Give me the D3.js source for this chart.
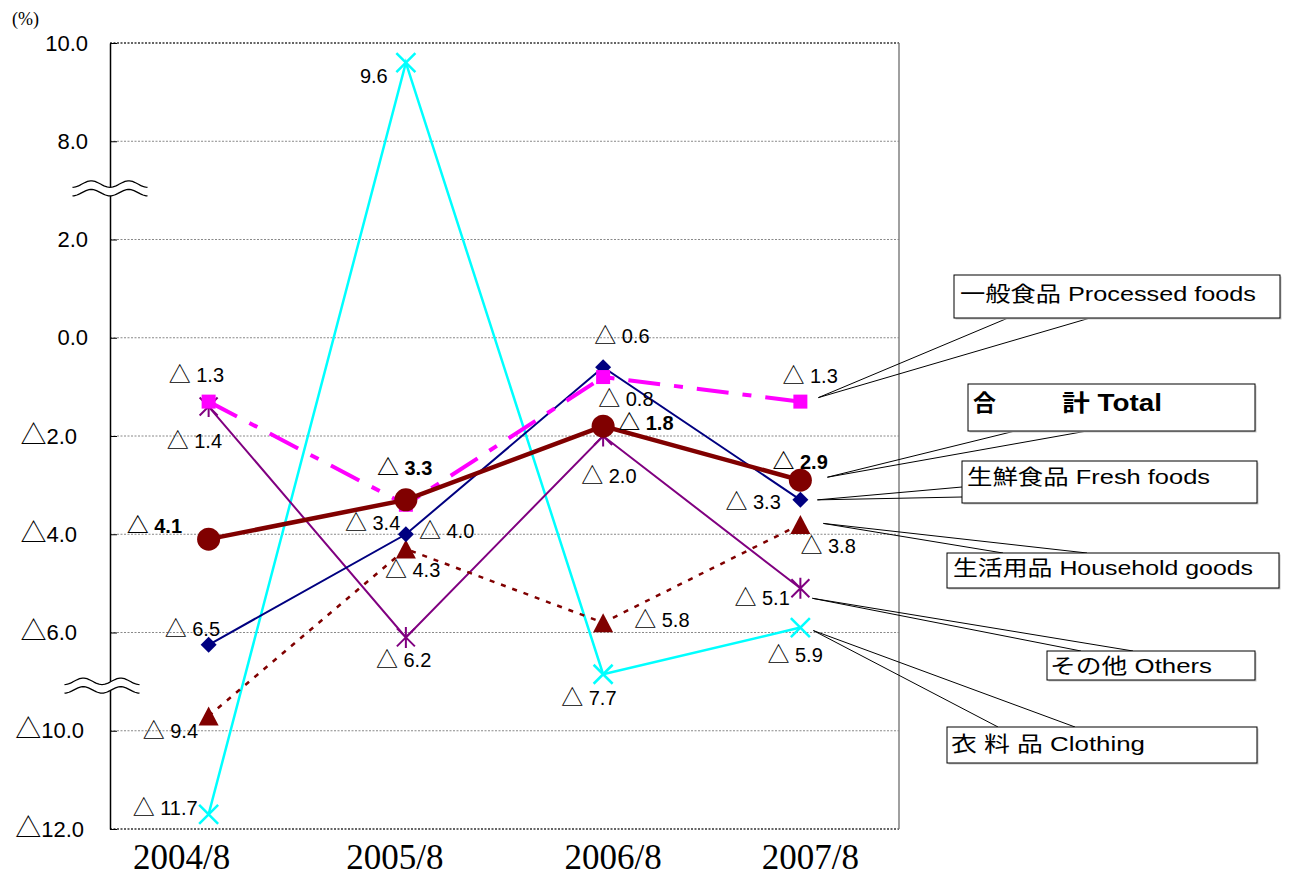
<!DOCTYPE html>
<html>
<head>
<meta charset="utf-8">
<title>Sales change by category</title>
<script src="https://d3js.org/d3.v7.min.js"></script>
<style>
  body { margin: 0; background: #fff; }
  text { font-family: 'Liberation Sans', 'Noto Sans CJK JP', sans-serif; fill: #000; white-space: pre; }
</style>
</head>
<body>
<div id="chart"></div>
<script>
// data (%) ; negative values are written with a leading triangle
const categories = ['2004/8', '2005/8', '2006/8', '2007/8'];
const processedFoods = [-1.3, -3.4, -0.8, -1.3];
const totalSales     = [-4.1, -3.3, -1.8, -2.9];
const freshFoods     = [-6.5, -4.0, -0.6, -3.3];
const householdGoods = [-9.4, -4.3, -5.8, -3.8];
const othersSales    = [-1.4, -6.2, -2.0, -5.1];
const clothingSales  = [-11.7, 9.6, -7.7, -5.9];
const yTicks = [10, 8, 2, 0, -2, -4, -6, -10, -12];   // broken axis: 8 -> 2 and -6 -> -10

const W = 1289, H = 876;
const plotL = 110, plotR = 899, plotT = 43, plotB = 829;

const svg = d3.select('#chart').append('svg')
  .attr('width', W).attr('height', H);

// scales
const x = d3.scalePoint().domain(categories).range([plotL, plotR]).padding(0.5);
const tickAsc = yTicks.slice().sort((a, b) => a - b);
const step = (plotB - plotT) / (tickAsc.length - 1);
const y = d3.scaleLinear()
  .domain(tickAsc)
  .range(tickAsc.map((d, i) => plotB - i * step));

// write a value with a big triangle for negatives
function writeValue(sel, v, triSize, gap) {
  sel.text(null);
  if (v < 0) {
    sel.append('tspan').attr('font-size', triSize).text('△');
    sel.append('tspan').text(gap + Math.abs(v).toFixed(1));
  } else {
    sel.text(v.toFixed(1));
  }
}

// series styles + where each value label sits relative to its point
const series = [
  { key: 'clothing', values: clothingSales, color: '#00FFFF', width: 2.5, dash: null, marker: 'x',
    offsets: [[-76, 1], [-46, 20], [-42, 31], [-33, 34]] },
  { key: 'others', values: othersSales, color: '#800080', width: 2, dash: null, marker: 'star',
    offsets: [[-42, 41], [-30, 30], [-22, 47], [-66, 17]] },
  { key: 'household', values: householdGoods, color: '#800000', width: 2.5, dash: '5,7', marker: 'triangle',
    offsets: [[-66, 22], [-21, 28], [31, 4], [0, 29]] },
  { key: 'fresh', values: freshFoods, color: '#000080', width: 2, dash: null, marker: 'diamond',
    offsets: [[-44, -9], [13, 4], [-9, -24], [-75, 9]] },
  { key: 'processed', values: processedFoods, color: '#FF00FF', width: 4, dash: '32,14,9,14', marker: 'square',
    offsets: [[-40, -20], [-61, 25], [-5, 29], [-18, -19]] },
  { key: 'total', values: totalSales, color: '#800000', width: 4.5, dash: null, marker: 'circle', bold: true,
    offsets: [[-82, -6], [-29, -25], [15, 4], [-28, -11]] }
];

// legend call-outs
const legendLayout = [
  { key: 'processed', box: [954, 275, 326, 43], from: [18, -4], anchors: [[1008, 318], [1090, 318]],
    parts: [{ t: '一般食品 Processed foods', x: 960, y: 301, len: 296, size: 21 }] },
  { key: 'total', box: [968, 384, 287, 47], from: [27, -3], anchors: [[1015, 431], [1087, 431]], bold: true,
    parts: [{ t: '合', x: 973, y: 411, len: 23, size: 23 }, { t: '計 Total', x: 1062, y: 411, len: 100, size: 23 }] },
  { key: 'fresh', box: [962, 461, 295, 42], from: [17, 0], anchors: [[962, 487], [962, 497]],
    parts: [{ t: '生鮮食品 Fresh foods', x: 967, y: 484, len: 243, size: 21 }] },
  { key: 'household', box: [947, 553, 332, 35], from: [23, -1], anchors: [[1003, 553], [1087, 553]],
    parts: [{ t: '生活用品 Household goods', x: 953, y: 575, len: 300, size: 21 }] },
  { key: 'others', box: [1047, 651, 208, 29], from: [12, 10], anchors: [[1081, 651], [1133, 651]],
    parts: [{ t: 'その他 Others', x: 1050, y: 673, len: 162, size: 21 }] },
  { key: 'clothing', box: [947, 727, 310, 36], from: [13, 3], anchors: [[998, 727], [1075, 727]],
    parts: [{ t: '衣 料 品 Clothing', x: 951, y: 751, len: 194, size: 21 }] }
];

// grid
svg.append('g').selectAll('line')
  .data(yTicks)
  .join('line')
  .attr('x1', plotL).attr('x2', plotR)
  .attr('y1', d => y(d)).attr('y2', d => y(d))
  .attr('stroke', (d, i) => (i === 0 || i === yTicks.length - 1) ? '#333' : '#888')
  .attr('stroke-width', (d, i) => (i === 0 || i === yTicks.length - 1) ? 1.5 : 1)
  .attr('stroke-dasharray', '2,1.5');

// right border
svg.append('line')
  .attr('x1', plotR).attr('x2', plotR).attr('y1', plotT).attr('y2', plotB)
  .attr('stroke', '#808080').attr('stroke-width', 1.5);

// y axis
const yAxis = svg.append('g')
  .attr('transform', `translate(${plotL},0)`)
  .call(d3.axisLeft(y).tickValues(yTicks).tickSizeInner(-7).tickSizeOuter(0).tickPadding(22));
yAxis.attr('font-family', null).attr('font-size', null);
yAxis.select('.domain').attr('stroke', '#000').attr('stroke-width', 1.5);
yAxis.selectAll('.tick line').attr('stroke', '#000');
yAxis.selectAll('.tick text')
  .attr('font-size', 22).attr('fill', '#000')
  .each(function (d) { writeValue(d3.select(this), d, 26, ''); })
  .filter(d => d < 0).attr('x', d => d <= -10 ? -26 : -33);

// axis break marks
function wave(cx, cy) {
  return d3.range(-37.5, 38, 1.5).map(t => [cx + t, cy + 3.2 * Math.cos(2 * Math.PI * t / 37.5)]);
}
[{ pair: [8, 2], dx: 0, dy: -2 }, { pair: [-6, -10], dx: -8, dy: 4 }].forEach(b => {
  const cy = (y(b.pair[0]) + y(b.pair[1])) / 2 + b.dy;
  const cx = plotL + b.dx;
  const top = wave(cx, cy - 4.3), bot = wave(cx, cy + 4.3);
  svg.append('path')
    .attr('d', d3.line()(top.concat(bot.slice().reverse())) + 'Z')
    .attr('fill', '#fff').attr('stroke', 'none');
  [top, bot].forEach(p => svg.append('path')
    .attr('d', d3.line()(p)).attr('fill', 'none').attr('stroke', '#000').attr('stroke-width', 1.3));
});

// x labels
const xShift = [-27, -11, 10, 10];
svg.append('g').selectAll('text')
  .data(categories)
  .join('text')
  .attr('x', (d, i) => x(d) + xShift[i])
  .attr('y', 869)
  .attr('text-anchor', 'middle')
  .style('font-family', "'Liberation Serif', serif")
  .attr('font-size', 35)
  .text(d => d);

svg.append('text')
  .attr('x', 12).attr('y', 25)
  .style('font-family', "'Liberation Serif', serif")
  .attr('font-size', 18)
  .text('(%)');

// lines
const line = d3.line().x((d, i) => x(categories[i])).y(d => y(d));
series.forEach(s => {
  svg.append('path')
    .datum(s.values)
    .attr('d', line)
    .attr('fill', 'none')
    .attr('stroke', s.color)
    .attr('stroke-width', s.width)
    .attr('stroke-dasharray', s.dash);
});

// markers
function marker(g, type, color) {
  if (type === 'circle') g.append('circle').attr('r', 11.5).attr('fill', color);
  else if (type === 'square') g.append('rect').attr('x', -7).attr('y', -7).attr('width', 14).attr('height', 14).attr('fill', color);
  else if (type === 'diamond') g.append('path').attr('d', 'M0,-8L8,0L0,8L-8,0Z').attr('fill', color);
  else if (type === 'triangle') g.append('path').attr('d', 'M0,-9.5L10,9.5L-10,9.5Z').attr('fill', color);
  else if (type === 'x') g.append('path').attr('d', 'M-9.5,-9.5L9.5,9.5M-9.5,9.5L9.5,-9.5')
    .attr('stroke', color).attr('stroke-width', 2.5).attr('fill', 'none');
  else if (type === 'star') g.append('path').attr('d', 'M-9,-9L9,9M-9,9L9,-9M0,-10.5L0,10.5')
    .attr('stroke', color).attr('stroke-width', 2).attr('fill', 'none');
}
series.forEach(s => {
  s.values.forEach((v, i) => {
    const g = svg.append('g').attr('transform', `translate(${x(categories[i])},${y(v)})`);
    marker(g, s.marker, s.color);
  });
});

// value labels
series.forEach(s => {
  svg.append('g').selectAll('text')
    .data(s.values)
    .join('text')
    .attr('x', (d, i) => x(categories[i]) + s.offsets[i][0])
    .attr('y', (d, i) => y(d) + s.offsets[i][1])
    .attr('font-size', 20)
    .attr('font-weight', s.bold ? 'bold' : null)
    .each(function (d) { writeValue(d3.select(this), d, 22, ' '); });
});

// legend call-outs
legendLayout.forEach(l => {
  const s = series.find(d => d.key === l.key);
  const last = s.values.length - 1;
  const ox = x(categories[last]) + l.from[0];
  const oy = y(s.values[last]) + l.from[1];
  l.anchors.forEach(a => svg.append('line')
    .attr('x1', ox).attr('y1', oy).attr('x2', a[0]).attr('y2', a[1])
    .attr('stroke', '#000').attr('stroke-width', 1));
  svg.append('rect')
    .attr('x', l.box[0] + 1.5).attr('y', l.box[1] + 1.5).attr('width', l.box[2]).attr('height', l.box[3])
    .attr('fill', '#c8c8c8');
  svg.append('rect')
    .attr('x', l.box[0]).attr('y', l.box[1]).attr('width', l.box[2]).attr('height', l.box[3])
    .attr('fill', '#fff').attr('stroke', '#000').attr('stroke-width', 1);
  l.parts.forEach(p => svg.append('text')
    .attr('x', p.x).attr('y', p.y)
    .attr('font-size', p.size)
    .attr('font-weight', l.bold ? 'bold' : null)
    .attr('textLength', p.len)
    .attr('lengthAdjust', 'spacingAndGlyphs')
    .text(p.t));
});
</script>
</body>
</html>
